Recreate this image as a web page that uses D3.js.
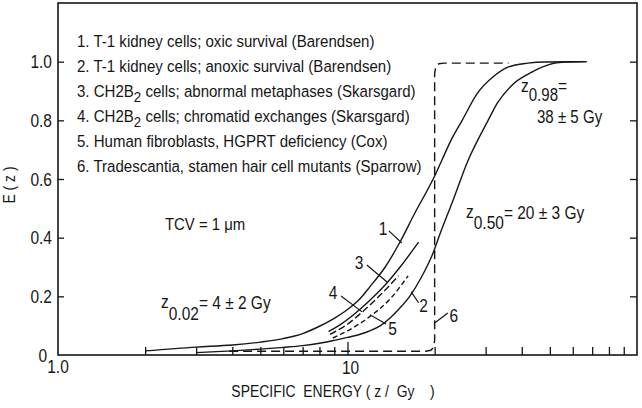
<!DOCTYPE html>
<html><head><meta charset="utf-8">
<script src="https://cdn.jsdelivr.net/npm/d3@7"></script>
<style>
html,body{margin:0;padding:0;background:#fff;}
svg{display:block;}
text{white-space:pre;}
</style></head>
<body><svg id="c" width="642" height="408"></svg>
<script>
// ---------- data ----------
const xTickValues = [1,2,3,4,5,6,7,8,9,10,20,30,40,50,60,70,80,90];
const xTickLabels = ["1.0","10"];
const xLabelValues = [1,10];
const yTickValues = [0,0.2,0.4,0.6,0.8,1.0];
const yTickLabels = ["0","0.2","0.4","0.6","0.8","1.0"];

const legendItems = [
  ["1. T-1 kidney cells; oxic survival (Barendsen)"],
  ["2. T-1 kidney cells; anoxic survival (Barendsen)"],
  ["3. CH2B", "2", " cells; abnormal metaphases (Skarsgard)"],
  ["4. CH2B", "2", " cells; chromatid exchanges (Skarsgard)"],
  ["5. Human fibroblasts, HGPRT deficiency (Cox)"],
  ["6. Tradescantia, stamen hair cell mutants (Sparrow)"]
];

const curve1Z = [2, 3, 4, 5, 6, 7, 8, 9, 10, 11, 12, 13.5, 15.2, 17, 20, 21.2, 23, 24.9, 28, 32, 36, 42, 48, 67];
const curve1E = [0.014, 0.027, 0.034, 0.044, 0.056, 0.073, 0.098, 0.125, 0.155, 0.19, 0.235, 0.30, 0.386, 0.48, 0.61, 0.665, 0.74, 0.80, 0.89, 0.95, 0.982, 0.995, 0.999, 1.0];

const curve2Z = [3, 4, 5, 6, 7, 8, 9, 10, 11, 12, 13, 14, 15, 16.4, 18, 19.7, 21, 23, 26, 30.6, 33, 37, 42.5, 48, 54, 67];
const curve2E = [0.008, 0.014, 0.02, 0.026, 0.032, 0.04, 0.05, 0.06, 0.07, 0.083, 0.1, 0.125, 0.155, 0.2, 0.265, 0.345, 0.42, 0.52, 0.66, 0.80, 0.86, 0.92, 0.96, 0.985, 0.997, 1.0];

const curve3Z = [8.6, 9.5, 11, 12.5, 13.8, 15.2, 17.6];
const curve3E = [0.08, 0.105, 0.154, 0.205, 0.25, 0.30, 0.385];

const curve4Z = [8.7, 10, 11.2, 13, 15];
const curve4E = [0.07, 0.105, 0.145, 0.205, 0.27];

const curve5Z = [8.9, 10, 11.9, 14, 16.2];
const curve5E = [0.058, 0.082, 0.13, 0.19, 0.27];

const curve6Z = [3.9, 18.6, 19.4, 19.8, 20, 20, 20.2, 20.7, 21.5, 36];
const curve6E = [0.013, 0.013, 0.016, 0.025, 0.05, 0.96, 0.985, 0.993, 0.995, 0.995];

const curveLabels = ["1","2","3","4","5","6"];

// ---------- setup ----------
const W = 642, H = 408;
const M = {left:58, right:5, top:3, bottom:53};
const svg = d3.select("#c");

function measure(fam){
  const t = svg.append("text").attr("font-family",fam).attr("font-size",100).text("abcdefghijklmnop ABCDEFG");
  const w = t.node().getComputedTextLength(); t.remove(); return w;
}
const wN = measure("'Liberation Sans Narrow','Liberation Sans'");
const wR = measure("'Liberation Sans'");
const hasNarrow = wN < wR*0.95;
const FAMILY = hasNarrow ? "'Liberation Sans Narrow'" : "'Liberation Sans', Arial, sans-serif";
const SX = hasNarrow ? 1 : 0.82;
const INK = "#161616";

const x = d3.scaleLog().domain([1,100]).range([M.left, W-M.right]);
const y = d3.scaleLinear().domain([0,1.2]).range([H-M.bottom, M.top]);

function txt(px, py, parts, opt={}){
  const sx = SX*(opt.sx||1);
  const g = svg.append("g").attr("transform",`translate(${px},${py}) ${opt.rotate?`rotate(${opt.rotate})`:""} scale(${sx},1)`);
  const t = g.append("text").attr("font-family",FAMILY).attr("font-size",opt.size||17)
     .attr("text-anchor",opt.anchor||"start").attr("fill",INK);
  parts.forEach(p=>{
    if (typeof p === "string") t.append("tspan").text(p);
    else { const s=t.append("tspan").text(p.t); if(p.dy!==undefined) s.attr("dy",p.dy); if(p.size) s.attr("font-size",p.size); }
  });
  return t;
}

// ---------- frame & axes ----------
svg.append("rect").attr("x",M.left).attr("y",M.top)
  .attr("width",W-M.left-M.right).attr("height",H-M.top-M.bottom)
  .attr("fill","none").attr("stroke",INK).attr("stroke-width",1.6);

function styleAxis(g){ g.select(".domain").remove(); g.selectAll(".tick line").attr("stroke",INK).attr("stroke-width",1.3); g.selectAll(".tick text").remove(); }

svg.append("g").attr("transform",`translate(0,${y(0)})`)
  .call(d3.axisBottom(x).tickValues(xTickValues.filter(v=>v!==10 && v!==1)).tickSize(-8).tickFormat(""))
  .call(styleAxis);
svg.append("g").attr("transform",`translate(0,${y(0)})`)
  .call(d3.axisBottom(x).tickValues([10]).tickSize(-13).tickFormat(""))
  .call(styleAxis);
svg.append("g").attr("transform",`translate(${x(1)},0)`)
  .call(d3.axisLeft(y).tickValues(yTickValues.slice(1)).tickSize(-6).tickFormat(""))
  .call(styleAxis);
svg.append("g").attr("transform",`translate(${x(100)},0)`)
  .call(d3.axisRight(y).tickValues(yTickValues.slice(1)).tickSize(-7).tickFormat(""))
  .call(styleAxis);

// tick labels
yTickValues.forEach((v,i)=>{
  if (i===0) txt(x(1)-11, y(0)+7, [yTickLabels[i]], {anchor:"end", size:18, sx:1.05});
  else txt(x(1)-6, y(v)+6.5, [yTickLabels[i]], {anchor:"end", size:18, sx:1.05});
});
xLabelValues.forEach((v,i)=>{
  txt(x(v)+(v===10?3:0), y(0)+(v===10?19:18), [xTickLabels[i]], {anchor:"middle", size:18, sx:1.05});
});

// axis titles
txt(333, 397, ["SPECIFIC  ENERGY ( z /  Gy    )"], {anchor:"middle", size:17});
txt(15, 185, ["E ( z )"], {anchor:"middle", size:17, rotate:-90});

// ---------- curves ----------
const line = d3.line().x(d=>x(d[0])).y(d=>y(d[1])).curve(d3.curveMonotoneX);
const lineLin = d3.line().x(d=>x(d[0])).y(d=>y(d[1]));
const zip = (a,b)=>a.map((v,i)=>[v,b[i]]);
const curves = [
  {z:curve1Z, e:curve1E, dash:null},
  {z:curve2Z, e:curve2E, dash:null},
  {z:curve3Z, e:curve3E, dash:null},
  {z:curve4Z, e:curve4E, dash:"7,3"},
  {z:curve5Z, e:curve5E, dash:"5,3"},
];
curves.forEach(c=>{
  svg.append("path").attr("d",line(zip(c.z,c.e))).attr("fill","none")
    .attr("stroke",INK).attr("stroke-width",1.4).attr("stroke-dasharray",c.dash);
});
svg.append("path").attr("d",lineLin(zip(curve6Z,curve6E))).attr("fill","none")
  .attr("stroke",INK).attr("stroke-width",1.4).attr("stroke-dasharray","9,5");

// ---------- curve labels with leader lines (data coords) ----------
const leaders = [
  {lab:curveLabels[0], at:[13.26,0.43], from:[13.9,0.423], to:[15.4,0.382]},
  {lab:curveLabels[1], at:[18.3,0.17], from:[16.6,0.215], to:[17.6,0.178]},
  {lab:curveLabels[2], at:[10.96,0.317], from:[11.66,0.307], to:[13.7,0.249]},
  {lab:curveLabels[3], at:[8.91,0.212], from:[9.5,0.201], to:[11.23,0.147]},
  {lab:curveLabels[4], at:[14.3,0.092], from:[11.95,0.137], to:[13.6,0.106]},
  {lab:curveLabels[5], at:[23.3,0.133], from:[20,0.109], to:[22.2,0.143]},
];
leaders.forEach(l=>{
  svg.append("line").attr("x1",x(l.from[0])).attr("y1",y(l.from[1]))
    .attr("x2",x(l.to[0])).attr("y2",y(l.to[1])).attr("stroke",INK).attr("stroke-width",1.2);
  txt(x(l.at[0]), y(l.at[1])+6.5, [l.lab], {anchor:"middle", size:18, sx:1.05});
});

// ---------- legend ----------
legendItems.forEach((it,i)=>{
  const parts = it.length===1 ? [it[0]] : [it[0], {t:it[1], dy:5, size:15}, {t:it[2], dy:-5, size:17}];
  txt(77, 47 + i*25, parts, {size:17, sx:1.08});
});

// ---------- annotations ----------
txt(165, 230, ["TCV = 1 ", "\u03bc", "m"], {size:17, sx:1.07});
txt(161, 308, ["z", {t:"0.02", dy:12}, {t:"= 4 \u00b1 2 Gy", dy:-11}], {size:18, sx:1.05});
txt(466, 218, ["z", {t:"0.50", dy:11}, {t:"= 20 \u00b1 3 Gy", dy:-10}], {size:18, sx:1.05});
txt(521, 92, ["z", {t:"0.98", dy:9, size:17.5}, {t:"=", dy:-9}], {size:18, sx:1.05});
txt(537, 123, ["38 \u00b1 5 Gy"], {size:17.5, sx:1.05});
</script>
</body></html>
